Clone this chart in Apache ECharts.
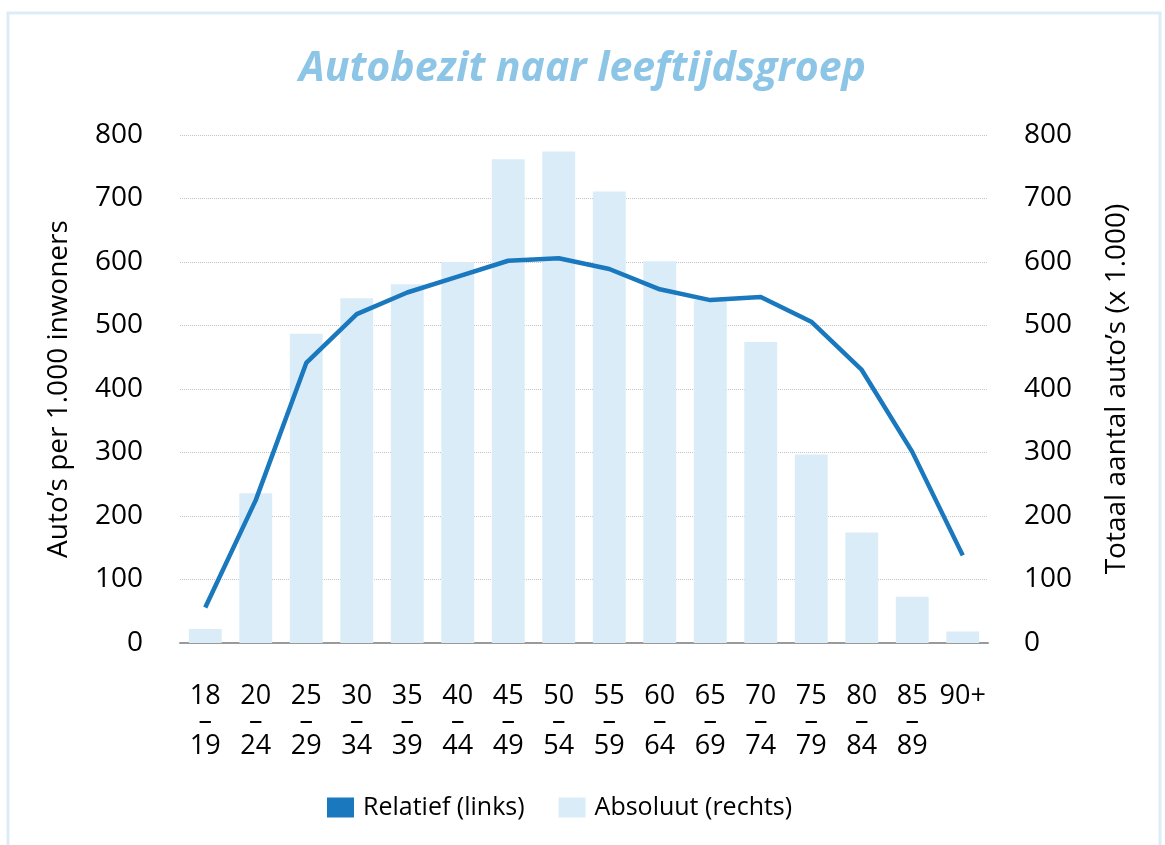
<!DOCTYPE html>
<html>
<head>
    <meta charset="UTF-8">
    <title>Autobezit naar leeftijdsgroep</title>
    <script src="https://cdn.jsdelivr.net/npm/echarts@6/dist/echarts.min.js"></script>
    <style>
    html, body { margin: 0; padding: 0; background: #fff; }
    #chart { width: 1165px; height: 845px; }
    </style>
</head>
<body>
<div id="chart"></div>
<script>
// leeftijdsgroepen
var categories = ['18\n–\n19', '20\n–\n24', '25\n–\n29', '30\n–\n34', '35\n–\n39', '40\n–\n44',
    '45\n–\n49', '50\n–\n54', '55\n–\n59', '60\n–\n64', '65\n–\n69', '70\n–\n74',
    '75\n–\n79', '80\n–\n84', '85\n–\n89', '90+'];
// auto's per 1.000 inwoners (links)
var relatief = [56, 225, 441, 518, 552, 577, 602, 606, 589, 557, 540, 545, 506, 430, 301, 138];
// totaal aantal auto's x 1.000 (rechts)
var absoluut = [22, 236, 487, 543, 565, 600, 762, 774, 711, 601, 540, 474, 297, 174, 73, 18];
var axisTicks = [0, 100, 200, 300, 400, 500, 600, 700, 800];

var fontFam = '"Open Sans", sans-serif';
var chart = echarts.init(document.getElementById('chart'));

var option = {
    backgroundColor: '#fff',
    textStyle: { fontFamily: fontFam },
    graphic: [{
        type: 'rect',
        shape: { x: 8, y: 13, width: 1152, height: 845 },
        style: { fill: 'none', stroke: '#ddedf7', lineWidth: 3 },
        silent: true
    }],
    title: {
        text: 'Autobezit naar leeftijdsgroep',
        left: 'center',
        top: 44,
        textStyle: {
            fontFamily: fontFam,
            fontSize: 41,
            fontWeight: 'bold',
            fontStyle: 'italic',
            color: '#8dc5e6'
        }
    },
    legend: {
        bottom: 20,
        left: 322,
        icon: 'rect',
        itemWidth: 27,
        itemHeight: 20,
        itemGap: 34,
        textStyle: { fontFamily: fontFam, fontSize: 25, color: '#000', padding: [0, 0, 0, 4] },
        data: ['Relatief (links)', 'Absoluut (rechts)']
    },
    grid: {
        left: 180,
        right: 177,
        top: 135,
        bottom: 202
    },
    xAxis: {
        type: 'category',
        data: categories,
        axisTick: { show: false },
        axisLine: { lineStyle: { color: '#9a9a9a', width: 2 } },
        axisLabel: {
            interval: 0,
            margin: 41,
            fontSize: 27,
            lineHeight: 25,
            color: '#000',
            fontFamily: fontFam
        }
    },
    yAxis: [{
        type: 'value',
        min: axisTicks[0],
        max: axisTicks[axisTicks.length - 1],
        interval: 100,
        name: 'Auto’s per 1.000 inwoners',
        nameLocation: 'middle',
        nameRotate: 90,
        nameGap: 107,
        nameTextStyle: { fontSize: 28, color: '#000', fontFamily: fontFam },
        axisLine: { show: false },
        axisTick: { show: false },
        axisLabel: { fontSize: 28, color: '#000', margin: 37, fontFamily: fontFam, padding: [0, 0, 8, 0] },
        splitLine: { lineStyle: { color: '#c4c4c4', type: 'dotted', width: 1 } }
    }, {
        type: 'value',
        min: axisTicks[0],
        max: axisTicks[axisTicks.length - 1],
        interval: 100,
        position: 'right',
        name: 'Totaal aantal auto’s (x 1.000)',
        nameLocation: 'middle',
        nameRotate: 90,
        nameGap: 115,
        nameTextStyle: { fontSize: 28, color: '#000', fontFamily: fontFam },
        axisLine: { show: false },
        axisTick: { show: false },
        axisLabel: { fontSize: 28, color: '#000', margin: 36, fontFamily: fontFam, padding: [0, 0, 8, 0] },
        splitLine: { show: false }
    }],
    series: [{
        name: 'Relatief (links)',
        type: 'line',
        yAxisIndex: 0,
        data: relatief,
        symbol: 'none',
        z: 5,
        color: '#1a78be',
        lineStyle: { width: 4.5, color: '#1a78be' }
    }, {
        name: 'Absoluut (rechts)',
        type: 'bar',
        yAxisIndex: 1,
        data: absoluut,
        barWidth: '65%',
        z: 2,
        color: '#daecf8',
        itemStyle: { color: '#daecf8' }
    }]
};

chart.setOption(option);
</script>
</body>
</html>
